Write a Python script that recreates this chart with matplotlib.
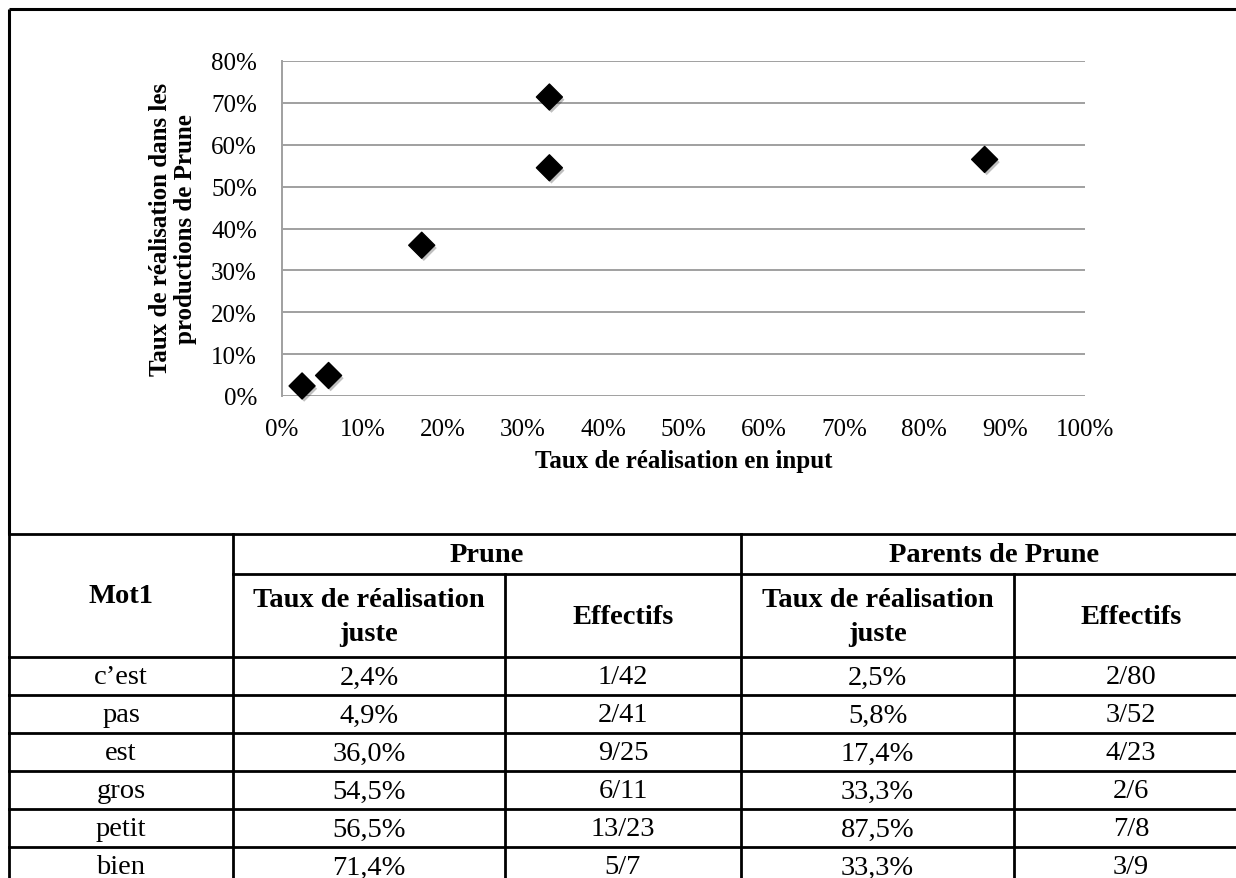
"""
Scatter of Prune's realisation rate vs. parents' input rate, with the source table below.
"""

import matplotlib

matplotlib.use("Agg")
import matplotlib.pyplot as plt
import matplotlib.patheffects as pe
from matplotlib.ticker import FuncFormatter, MultipleLocator

# --- data ---
words = ["c’est", "pas", "est", "gros", "petit", "bien"]
prune_rate = [2.4, 4.9, 36.0, 54.5, 56.5, 71.4]
prune_counts = ["1/42", "2/41", "9/25", "6/11", "13/23", "5/7"]
parents_rate = [2.5, 5.8, 17.4, 33.3, 87.5, 33.3]
parents_counts = ["2/80", "3/52", "4/23", "2/6", "7/8", "3/9"]

x_label = "Taux de réalisation en input"
y_label = "Taux de réalisation dans les\nproductions de Prune"
group_labels = ["Prune", "Parents de Prune"]
sub_labels = ["Taux de réalisation\njuste", "Effectifs"]
first_col_label = "Mot1"

W, H = 1236, 879
SERIF = ["Liberation Serif", "DejaVu Serif"]


def _pct(v: float) -> str:
    return f"{v:.1f}%".replace(".", ",")


fig = plt.figure(figsize=(W / 100, H / 100), dpi=100)
fig.patch.set_facecolor("white")

# overlay in pixel coordinates for the frame and the table
frame = fig.add_axes([0, 0, 1, 1], zorder=0)
frame.set_xlim(0, W)
frame.set_ylim(H, 0)
frame.axis("off")

# chart border
frame.plot([9, W + 5], [10, 10], color="black", lw=2.2, solid_capstyle="butt")
frame.plot([9, 9], [10, 535], color="black", lw=2.2, solid_capstyle="butt")

# --- scatter ---
ax = fig.add_axes([282 / W, 1 - 397 / H, 803 / W, 335 / H], zorder=2)
ax.set_facecolor("none")
ax.scatter(
    parents_rate,
    prune_rate,
    marker="D",
    s=175,
    color="black",
    zorder=3,
    clip_on=False,
    path_effects=[
        pe.SimplePatchShadow(offset=(1.5, -2), shadow_rgbFace="black", alpha=0.25),
        pe.Normal(),
    ],
)
ax.set_xlim(0, 100)
ax.set_ylim(0, 80)
ax.xaxis.set_major_locator(MultipleLocator(10))
ax.yaxis.set_major_locator(MultipleLocator(10))
fmt = FuncFormatter(lambda v, _: f"{v:.0f}%")
ax.xaxis.set_major_formatter(fmt)
ax.yaxis.set_major_formatter(fmt)
ax.grid(axis="y", color="#a0a0a0", lw=1.4)
ax.grid(axis="x", visible=False)
ax.set_axisbelow(True)
for side in ("top", "right", "bottom"):
    ax.spines[side].set_visible(False)
ax.spines["left"].set_color("#a0a0a0")
ax.spines["left"].set_linewidth(1.4)
ax.tick_params(length=0, labelsize=18, colors="black")
ax.tick_params(axis="y", pad=18)
ax.tick_params(axis="x", pad=16)
for lab in ax.get_xticklabels() + ax.get_yticklabels():
    lab.set_family(SERIF)
ax.set_xlabel(x_label, fontsize=18, fontweight="bold", family=SERIF, labelpad=6)
ax.set_ylabel(y_label, fontsize=18, fontweight="bold", family=SERIF, labelpad=10,
              linespacing=1.1)

# --- table ---
col_edges = [9, 233, 505, 741, 1014, 1248]
top, mid, head_bot, row_h = 535, 575, 658, 38
n_rows = len(words)
bottom = head_bot + row_h * n_rows
lw_t = 2.0

# horizontal lines
frame.plot([9, W + 5], [top, top], color="black", lw=lw_t)
frame.plot([col_edges[1], W + 5], [mid, mid], color="black", lw=lw_t)
for i in range(n_rows + 1):
    y = head_bot + row_h * i
    frame.plot([9, W + 5], [y, y], color="black", lw=lw_t)
# vertical lines
for x in (col_edges[0], col_edges[1], col_edges[3]):
    frame.plot([x, x], [top, bottom], color="black", lw=lw_t)
for x in (col_edges[2], col_edges[4]):
    frame.plot([x, x], [mid, bottom], color="black", lw=lw_t)

tfs = 20.5
frame.text((col_edges[0] + col_edges[1]) / 2, (top + head_bot) / 2, first_col_label,
           ha="center", va="center", fontsize=tfs, fontweight="bold", family=SERIF)
for g, label in enumerate(group_labels):
    x0, x1 = col_edges[1 + 2 * g], col_edges[3 + 2 * g]
    frame.text((x0 + x1) / 2, (top + mid) / 2 + 1, label, ha="center", va="center",
               fontsize=tfs, fontweight="bold", family=SERIF)
    for s, sub in enumerate(sub_labels):
        a, b = col_edges[1 + 2 * g + s], col_edges[2 + 2 * g + s]
        frame.text((a + b) / 2, (mid + head_bot) / 2 + 1, sub, ha="center", va="center",
                   fontsize=tfs, fontweight="bold", family=SERIF, linespacing=1.5)

columns = [
    words,
    [_pct(v) for v in prune_rate],
    prune_counts,
    [_pct(v) for v in parents_rate],
    parents_counts,
]
for c, values in enumerate(columns):
    cx = (col_edges[c] + col_edges[c + 1]) / 2
    for i, val in enumerate(values):
        cy = head_bot + row_h * i + row_h / 2 + 1
        frame.text(cx, cy, val, ha="center", va="center", fontsize=tfs, family=SERIF)

fig.savefig("out.png", dpi=100)
